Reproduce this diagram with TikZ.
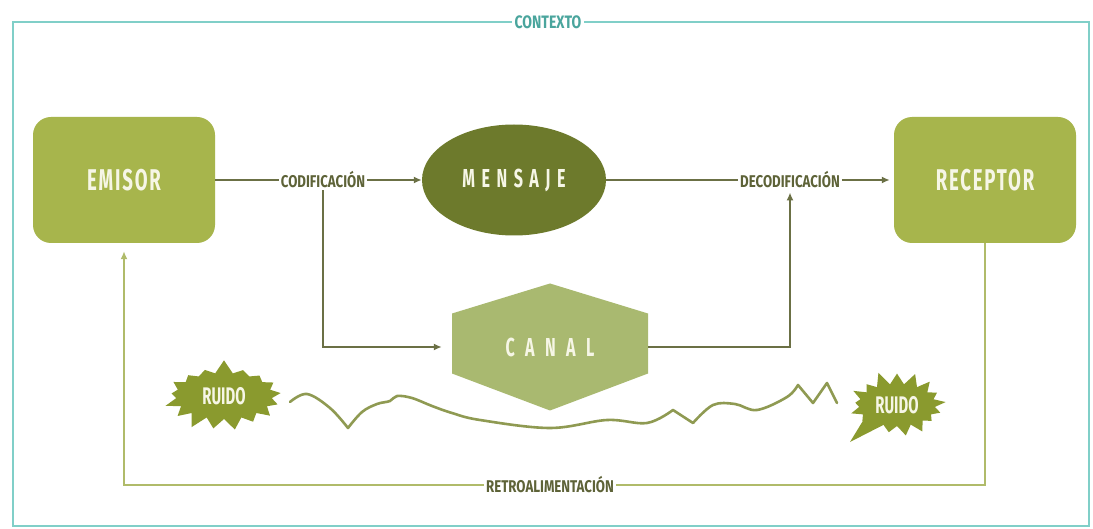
\documentclass[tikz,border=0pt]{standalone}
\usepackage{fontspec}
\setmainfont{Fira Sans}
\newfontfamily\condfont[FakeStretch=0.62]{Fira Sans}
\newfontfamily\labelfont[FakeStretch=0.78]{Fira Sans}
\usetikzlibrary{shapes.geometric,shapes.symbols,arrows.meta,calc}

\definecolor{framec}{HTML}{80CFC8}
\definecolor{ctxtext}{HTML}{4AA59D}
\definecolor{blockc}{HTML}{A7B54C}
\definecolor{msgc}{HTML}{6D7A2C}
\definecolor{canalc}{HTML}{A9B970}
\definecolor{ruidoc}{HTML}{8A9A2E}
\definecolor{linec}{HTML}{6B7045}
\definecolor{fbc}{HTML}{B0BB6A}
\definecolor{wavec}{HTML}{8F9A52}
\definecolor{labelc}{HTML}{5E6338}
\definecolor{paper}{HTML}{F6F6E6}

\begin{document}
\begin{tikzpicture}[x=1pt,y=-1pt,
  frame/.style={draw=framec,line width=2.5pt},
  ctxlabel/.style={fill=white,inner sep=3pt,text=ctxtext,font=\labelfont\bfseries\fontsize{18}{18}\selectfont},
  block/.style={fill=blockc,rounded corners=18pt,minimum width=182pt,minimum height=126pt,
    text=paper,font=\condfont\bfseries\addfontfeatures{LetterSpace=6}\fontsize{30}{30}\selectfont},
  flowlabel/.style={inner sep=2pt,text=labelc,font=\labelfont\bfseries\fontsize{17}{17}\selectfont},
  flow/.style={draw=linec,line width=2pt},
  fb/.style={draw=fbc,line width=2.2pt},
  tip/.style={-{Latex[length=8pt,width=7pt]}},
  burst/.style={starburst,starburst points=17,starburst point height=14pt,fill=ruidoc,
    inner sep=2pt,text=paper,font=\condfont\bfseries\fontsize{24}{24}\selectfont},
  wave/.style={draw=wavec,line width=2.6pt,line join=round,line cap=round},
  spaced/.style={font=\condfont\bfseries\addfontfeatures{LetterSpace=25}\fontsize{26}{26}\selectfont}
]
\useasboundingbox (0,0) rectangle (1093,529);
\fill[white] (0,0) rectangle (1093,529);

% context frame with its title
\draw[frame] (13,22) rectangle (1089,526);
\node[ctxlabel] (ctx) at (548,22) {CONTEXTO};

% main blocks
\node[block] (emisor) at (124,180) {EMISOR};
\node[block] (receptor) at (985,180) {RECEPTOR};
\node[ellipse,fill=msgc,minimum width=184pt,minimum height=111pt,text=paper,spaced] (mensaje) at (514,180) {MENSAJE};
\node[minimum width=196pt,minimum height=127pt,inner sep=0pt,text=paper,spaced,
  font=\condfont\bfseries\addfontfeatures{LetterSpace=40}\fontsize{26}{26}\selectfont,
  path picture={\fill[canalc] (path picture bounding box.north) -- ++(98,30) -- ++(0,60)
    -- (path picture bounding box.south) -- ++(-98,-37) -- ++(0,-60) -- cycle;}] (canal) at (550,347) {CANAL};

% coding labels
\node[flowlabel] (cod) at (323,180) {CODIFICACIÓN};
\node[flowlabel] (decod) at (790,180) {DECODIFICACIÓN};
\node[flowlabel,fill=white] (retro) at (550,485) {RETROALIMENTACIÓN};

% message path
\draw[flow] (emisor.east) -- (cod.west);
\draw[flow,tip] (cod.east) -- (mensaje.west);
\draw[flow] (mensaje.east) -- (decod.west);
\draw[flow,tip,shorten >=4pt] (decod.east) -- (receptor.west);

% channel path
\draw[flow,tip,shorten >=10pt] (cod.south) |- (canal.west);
\draw[flow,tip,shorten >=2pt] (canal.east) -| (decod.south);

% feedback
\draw[fb] (receptor.south) |- (retro.east);
\draw[fb,-{Latex[length=8pt,width=7pt]},shorten >=8pt] (retro.west) -| (emisor.south);

% noise bursts
\node[burst,random starburst=7,minimum width=124pt,minimum height=74pt] (ruido1) at (224,396) {RUIDO};
\fill[ruidoc] (872,406) -- (850,442) -- (893,420) -- cycle;
\node[burst,random starburst=11,minimum width=104pt,minimum height=70pt] (ruido2) at (897,405) {RUIDO};

% interference line between the bursts
\draw[wave] plot[smooth,tension=0.6] coordinates {(290,402) (307,394) (330,408) (348,428)}
  -- plot[smooth,tension=0.6] coordinates {(348,428) (362,412) (377,404) (390,401) (397,396) (412,398) (432,406)
     (452,413) (480,420) (550,428) (607,420) (647,423) (673,410)}
  -- (693,423)
  -- plot[smooth,tension=0.6] coordinates {(693,423) (713,405) (735,404) (757,410) (787,397) (798,385)}
  -- (813,403) -- (827,383) -- (837,403);
\end{tikzpicture}
\end{document}
